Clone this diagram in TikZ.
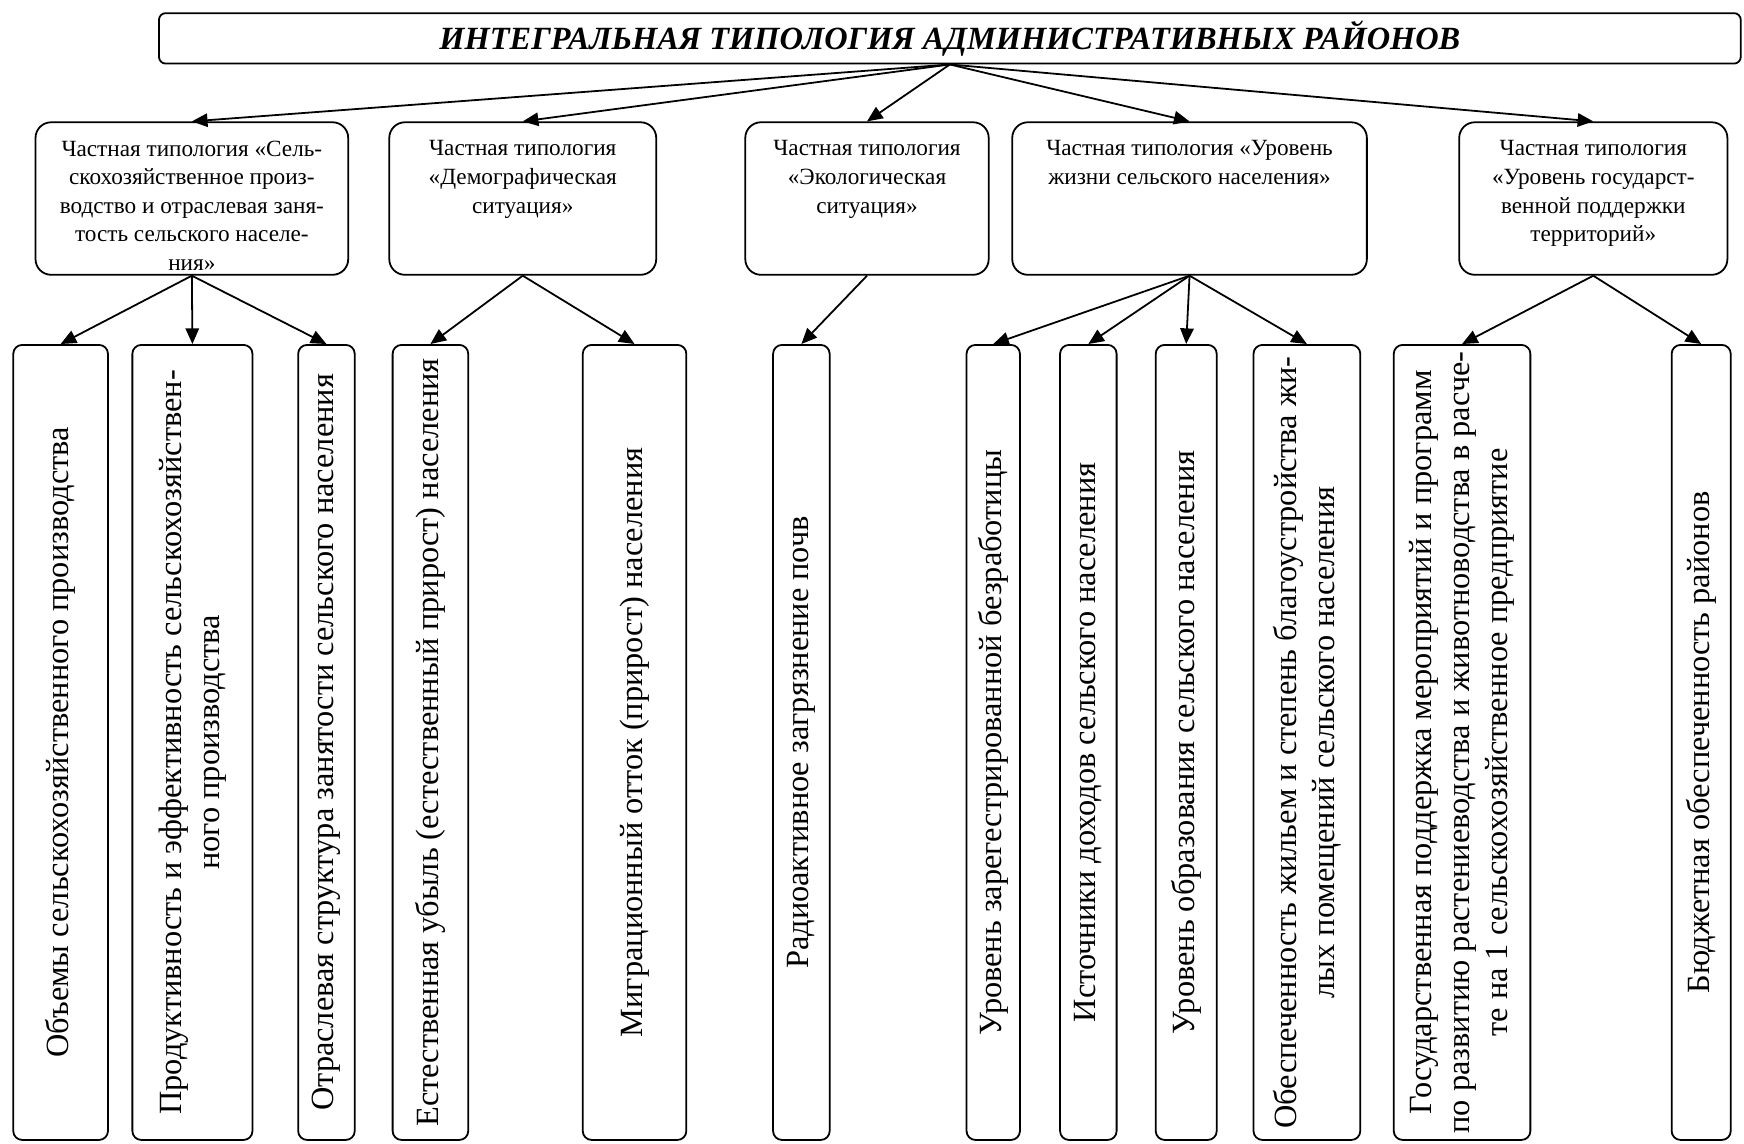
\documentclass[tikz,border=0pt]{standalone}
\usepackage{fontspec}
\setmainfont{Liberation Serif}
\usetikzlibrary{arrows.meta}
\newcommand{\toptext}[2]{\parbox[c][1.82cm][t]{#1}{\centering #2}}

\begin{document}
\begin{tikzpicture}[thick, x=0.0175cm, y=-0.0175cm,
      title/.style = {draw, rounded corners=3pt, minimum width=24.89cm, minimum height=0.79cm,
        font=\fontsize{14.5}{16}\selectfont\bfseries\itshape},
      typ/.style = {draw, rounded corners=7pt, inner xsep=0.06cm, inner ysep=0.29cm,
        font=\fontsize{10.4}{12.8}\selectfont},
      factor/.style = {draw, rounded corners=4pt, rotate=90, minimum width=12.51cm,
        align=center, inner sep=2pt, font=\fontsize{14.5}{17}\selectfont},
      arrow/.style = {-{Triangle[length=7pt, width=6pt]}}]
    \useasboundingbox (0,0) rectangle (1568,1028);

    % title
    \node[title] (top) at (854,34.5) {ИНТЕГРАЛЬНАЯ ТИПОЛОГИЯ АДМИНИСТРАТИВНЫХ РАЙОНОВ};

    % partial typologies
    \node[typ] (agr) at (172.5,178.5) {\toptext{4.80cm}{Частная типология «Сель-\\скохозяйственное произ-\\водство и отраслевая заня-\\тость сельского населе-\\ния»}};
    \node[typ] (dem) at (470,178.5) {\toptext{4.08cm}{Частная типология\\«Демографическая\\ситуация»}};
    \node[typ] (eco) at (779.5,178.5) {\toptext{3.71cm}{Частная типология\\«Экологическая\\ситуация»}};
    \node[typ] (life) at (1069.5,178.5) {\toptext{5.46cm}{Частная типология «Уровень\\жизни сельского населения»}};
    \node[typ] (gov) at (1432.5,178.5) {\toptext{4.10cm}{Частная типология\\«Уровень государст-\\венной поддержки\\территорий»}};

    % indicators
    \node[factor, minimum height=1.49cm] (vol) at (54.5,667.5) {Объемы сельскохозяйственного производства};
    \node[factor, minimum height=1.89cm] (prod) at (173,667.5) {Продуктивность и эффективность сельскохозяйствен-\\ного производства};
    \node[factor, minimum height=0.89cm] (empl) at (293.5,667.5) {Отраслевая структура занятости сельского населения};
    \node[factor, minimum height=1.19cm] (nat) at (387,667.5) {Естественная убыль (естественный прирост) населения};
    \node[factor, minimum height=1.63cm] (migr) at (570.5,667.5) {Миграционный отток (прирост) населения};
    \node[factor, minimum height=0.89cm] (rad) at (720.5,667.5) {Радиоактивное загрязнение почв};
    \node[factor, minimum height=0.84cm] (unemp) at (893,667.5) {Уровень зарегестрированной безработицы};
    \node[factor, minimum height=0.89cm] (inc) at (978.5,667.5) {Источники доходов сельского населения};
    \node[factor, minimum height=0.96cm] (edu) at (1066.5,667.5) {Уровень образования сельского населения};
    \node[factor, minimum height=1.68cm] (house) at (1175,667.5) {Обеспеченность жильем и степень благоустройства жи-\\лых помещений сельского населения};
    \node[factor, minimum height=2.15cm] (supp) at (1314.5,667.5) {Государственная поддержка мероприятий и программ\\по развитию растениеводства и животноводства в расче-\\те на 1 сельскохозяйственное предприятие};
    \node[factor, minimum height=0.93cm] (budg) at (1529.5,667.5) {Бюджетная обеспеченность районов};

    % title to typologies
    \draw[arrow] (top.south) -- (agr.north);
    \draw[arrow] (top.south) -- (dem.north);
    \draw[arrow] (top.south) -- (eco.north);
    \draw[arrow] (top.south) -- (life.north);
    \draw[arrow] (top.south) -- (gov.north);

    % typologies to indicators
    \draw[arrow] (agr.south) -- (vol.east);
    \draw[arrow] (agr.south) -- (prod.east);
    \draw[arrow] (agr.south) -- (empl.east);
    \draw[arrow] (dem.south) -- (nat.east);
    \draw[arrow] (dem.south) -- (migr.east);
    \draw[arrow] (eco.south) -- (rad.east);
    \draw[arrow] (life.south) -- (unemp.east);
    \draw[arrow] (life.south) -- (inc.east);
    \draw[arrow] (life.south) -- (edu.east);
    \draw[arrow] (life.south) -- (house.east);
    \draw[arrow] (gov.south) -- (supp.east);
    \draw[arrow] (gov.south) -- (budg.east);
  \end{tikzpicture}
\end{document}
